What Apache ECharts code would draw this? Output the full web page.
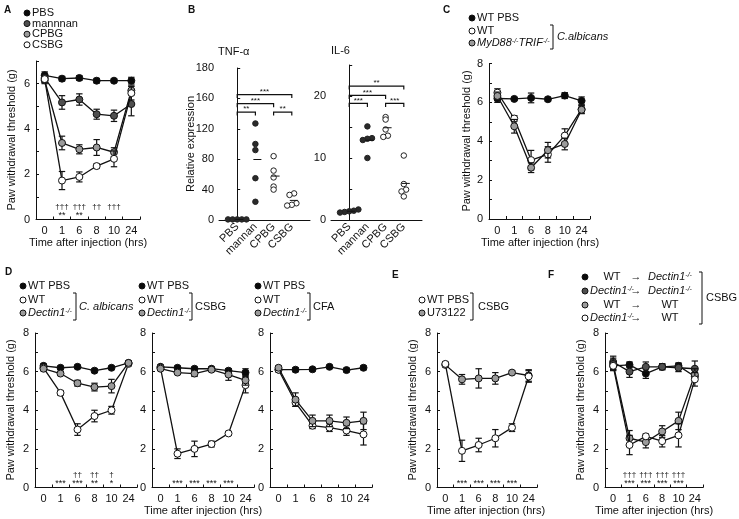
<!DOCTYPE html>
<html><head><meta charset="utf-8">
<script src="https://cdn.jsdelivr.net/npm/echarts@6/dist/echarts.min.js"></script>
<style>html,body{margin:0;padding:0;background:#fff}#c{width:739px;height:519px}</style>
</head><body><div id="c"></div>
<script>
// ---------------- data ----------------
const timeLabels = ['0','1','6','8','10','24'];

// Panel A
const aPBS = [6.37, 6.22, 6.25, 6.13, 6.13, 6.13];
const aPBSErr = [0.15, 0.1, 0.1, 0.1, 0.08, 0.15];
const aMannan = [6.25, 5.17, 5.3, 4.65, 4.58, 5.1];
const aMannanErr = [0.15, 0.3, 0.25, 0.22, 0.25, 0.52];
const aCPBG = [6.15, 3.38, 3.1, 3.18, 2.97, 5.7];
const aCPBGErr = [0.15, 0.3, 0.2, 0.35, 0.2, 0.2];
const aCSBG = [6.2, 1.72, 1.88, 2.36, 2.68, 5.58];
const aCSBGErr = [0.15, 0.4, 0.22, 0.1, 0.35, 0.3];
const aDaggers = ['', '†††', '†††', '††', '†††', ''];
const aStars = ['', '**', '**', '', '', ''];

// Panel B
const bCats = ['PBS', 'mannan', 'CPBG', 'CSBG'];
const tnfTickLabels = ['0', '40', '80', '120', '160', '180'];
const tnfPBS = [0.8, 0.8, 0.8, 0.8, 0.8];
const tnfMannan = [127, 100, 92, 55, 24];
const tnfCPBG = [84, 65, 56, 44, 40];
const tnfCSBG = [35, 33, 22, 20, 19];
const il6PBS = [1.7, 1.5, 1.4, 1.3, 1.2];
const il6Mannan = [15.1, 13.2, 13.1, 12.9, 10.0];
const il6CPBG = [16.6, 16.2, 14.6, 13.6, 13.4];
const il6CSBG = [10.4, 5.8, 4.9, 4.6, 3.8];
const tnfBrackets = [[0, 1, 142], [0, 2, 153], [0, 3, 165], [2, 3, 142]];
const tnfBracketLabels = ['**', '***', '***', '**'];
const il6Brackets = [[0, 1, 18.8], [0, 2, 20.1], [0, 3, 21.6], [2, 3, 18.8]];
const il6BracketLabels = ['***', '***', '**', '***'];

// Panel C
const cPBS = [6.2, 6.18, 6.23, 6.16, 6.35, 6.08];
const cPBSErr = [0.2, 0.08, 0.25, 0.1, 0.15, 0.2];
const cWT = [6.5, 5.17, 3.03, 3.32, 4.29, 5.65];
const cWTErr = [0.2, 0.15, 0.5, 0.4, 0.35, 0.2];
const cMyD = [6.33, 4.77, 2.64, 3.54, 3.86, 5.62];
const cMyDErr = [0.2, 0.35, 0.25, 0.4, 0.3, 0.2];

// Panel D (C. albicans, CSBG, CFA)
const d1PBS = [6.3, 6.2, 6.25, 6.05, 6.2, 6.45];
const d1PBSErr = [0.1, 0.08, 0.08, 0.08, 0.08, 0.1];
const d1WT = [6.2, 4.9, 3.0, 3.7, 4.0, 6.4];
const d1WTErr = [0.1, 0.12, 0.3, 0.3, 0.2, 0.1];
const d1Dectin = [6.15, 5.9, 5.4, 5.2, 5.25, 6.45];
const d1DectinErr = [0.1, 0.1, 0.15, 0.2, 0.35, 0.1];
const d1Daggers = ['', '', '††', '††', '†', ''];
const d1Stars = ['', '***', '***', '**', '*', ''];

const d2PBS = [6.25, 6.2, 6.15, 6.15, 6.05, 5.95];
const d2PBSErr = [0.08, 0.08, 0.08, 0.08, 0.1, 0.2];
const d2WT = [6.2, 1.75, 2.0, 2.25, 2.8, 5.3];
const d2WTErr = [0.08, 0.25, 0.4, 0.15, 0.1, 0.4];
const d2Dectin = [6.15, 5.95, 5.9, 6.1, 5.85, 5.55];
const d2DectinErr = [0.08, 0.08, 0.15, 0.08, 0.3, 0.25];
const d2Stars = ['', '***', '***', '***', '***', ''];

const d3PBS = [6.1, 6.1, 6.12, 6.25, 6.08, 6.2];
const d3PBSErr = [0.08, 0.1, 0.08, 0.08, 0.1, 0.1];
const d3WT = [6.1, 4.4, 3.2, 3.1, 2.95, 2.75];
const d3WTErr = [0.1, 0.2, 0.15, 0.2, 0.25, 0.55];
const d3Dectin = [6.2, 4.55, 3.45, 3.45, 3.35, 3.45];
const d3DectinErr = [0.1, 0.35, 0.3, 0.3, 0.3, 0.45];

// Panel E
const eWT = [6.4, 1.9, 2.2, 2.55, 3.1, 5.75];
const eWTErr = [0.1, 0.55, 0.35, 0.45, 0.2, 0.3];
const eU = [6.35, 5.6, 5.65, 5.65, 5.95, 5.8];
const eUErr = [0.1, 0.25, 0.5, 0.3, 0.1, 0.3];
const eStars = ['', '***', '***', '***', '***', ''];

// Panel F
const fWTtoKO = [6.3, 6.35, 5.9, 6.25, 6.3, 5.75];
const fWTtoKOErr = [0.25, 0.15, 0.25, 0.15, 0.15, 0.2];
const fKOtoKO = [6.5, 6.0, 6.25, 6.25, 6.2, 6.15];
const fKOtoKOErr = [0.3, 0.3, 0.25, 0.15, 0.2, 0.4];
const fWTtoWT = [6.4, 2.55, 2.35, 2.9, 3.45, 5.85];
const fWTtoWTErr = [0.3, 0.4, 0.3, 0.3, 0.45, 0.3];
const fKOtoWT = [6.3, 2.2, 2.65, 2.4, 2.7, 5.6];
const fKOtoWTErr = [0.2, 0.5, 0.12, 0.3, 0.6, 0.35];
const fDaggers = ['', '†††', '†††', '†††', '†††', ''];
const fStars = ['', '***', '***', '***', '***', ''];

// ---------------- styling ----------------
const FONT = '"Liberation Sans", Arial, Helvetica, sans-serif';
const INK = '#111';
const COL = { black: '#0a0a0a', dark: '#4f4f4f', gray: '#9b9b9b', white: '#ffffff' };

const grids = [], xAxes = [], yAxes = [], series = [], graphics = [];

function errorBarRender(params, api) {
  const x = api.value(0), y = api.value(1), e = api.value(2);
  const a = api.coord([x, y + e]), b = api.coord([x, y - e]);
  const w = 3.2, st = { stroke: INK, lineWidth: 1.2 };
  return { type: 'group', children: [
    { type: 'line', shape: { x1: a[0], y1: a[1], x2: b[0], y2: b[1] }, style: st },
    { type: 'line', shape: { x1: a[0] - w, y1: a[1], x2: a[0] + w, y2: a[1] }, style: st },
    { type: 'line', shape: { x1: b[0] - w, y1: b[1], x2: b[0] + w, y2: b[1] }, style: st }
  ]};
}

function sigSeries(gi, labels, offset, size) {
  return {
    type: 'custom', xAxisIndex: gi, yAxisIndex: gi, z: 20, silent: true,
    data: labels.map((_, i) => [i, 0]),
    renderItem: (params, api) => {
      const t = labels[params.dataIndex];
      if (!t) return null;
      const p = api.coord([api.value(0), 0]);
      return { type: 'text', x: p[0], y: p[1] - offset, style: {
        text: t, font: size + 'px ' + FONT, fill: INK,
        textAlign: 'center', align: 'center', textVerticalAlign: 'middle', verticalAlign: 'middle' } };
    }
  };
}

function addTimePanel(cfg) {
  const gi = grids.length;
  grids.push({ left: cfg.left, top: cfg.top, width: cfg.width, height: cfg.height });
  xAxes.push({ gridIndex: gi, type: 'category', data: timeLabels, boundaryGap: true,
    axisLine: { lineStyle: { color: INK, width: 1 } },
    axisTick: { show: true, inside: true, length: 3, lineStyle: { color: INK } },
    axisLabel: { color: INK, fontSize: 11, fontFamily: FONT, margin: 6, interval: 0 } });
  yAxes.push({ gridIndex: gi, type: 'value', min: 0, max: cfg.yMax, interval: 1,
    axisLine: { show: true, lineStyle: { color: INK, width: 1 } },
    axisTick: { show: true, inside: true, length: 3, lineStyle: { color: INK } },
    splitLine: { show: false },
    axisLabel: { color: INK, fontSize: 11, fontFamily: FONT, margin: 6,
      formatter: v => (v % 2 === 0 ? String(v) : '') } });
  cfg.series.forEach((s, k) => {
    series.push({ type: 'custom', xAxisIndex: gi, yAxisIndex: gi, z: 2 + k * 2, silent: true,
      data: s.values.map((v, i) => [i, v, s.errors[i]]), renderItem: errorBarRender });
    series.push({ type: 'line', name: s.name, xAxisIndex: gi, yAxisIndex: gi, z: 3 + k * 2, silent: true,
      data: s.values, symbol: 'circle', symbolSize: 7, showSymbol: true,
      lineStyle: { color: INK, width: 1.3 },
      itemStyle: { color: s.fill, borderColor: INK, borderWidth: 1 } });
  });
  if (cfg.daggers) series.push(sigSeries(gi, cfg.daggers, 13, 8));
  if (cfg.stars) series.push(sigSeries(gi, cfg.stars, 4, 9));
}

// swarm offsets (in x data units) derived from values
function swarm(vals, pxPerY, pxPerX) {
  const idx = vals.map((v, i) => i).sort((a, b) => vals[a] - vals[b]);
  const clusters = [];
  idx.forEach(i => {
    const last = clusters[clusters.length - 1];
    if (last && (vals[i] - vals[last[last.length - 1]]) * pxPerY < 2.4) last.push(i);
    else clusters.push([i]);
  });
  const offs = new Array(vals.length).fill(0);
  const step = 4.6;
  clusters.forEach(c => c.forEach((i, j) => { offs[i] = (j - (c.length - 1) / 2) * step / pxPerX; }));
  return offs;
}

function addDotPanel(cfg) {
  const gi = grids.length;
  grids.push({ left: cfg.left, top: cfg.top, width: cfg.width, height: cfg.height });
  xAxes.push({ gridIndex: gi, type: 'value', min: -1, max: 4, interval: 1,
    axisLine: { lineStyle: { color: INK, width: 1 } }, axisTick: { show: false }, splitLine: { show: false },
    axisLabel: { color: INK, fontSize: 11, fontFamily: FONT, rotate: 45, margin: 5,
      formatter: v => (bCats[v] !== undefined ? bCats[v] : '') } });
  yAxes.push({ gridIndex: gi, type: 'value', min: 0, max: cfg.yMax, interval: cfg.interval,
    axisLine: { show: true, lineStyle: { color: INK, width: 1 } },
    axisTick: { show: true, inside: true, length: 3, lineStyle: { color: INK } },
    splitLine: { show: false },
    axisLabel: { color: INK, fontSize: 11, fontFamily: FONT, margin: 5, formatter: cfg.tickFormatter } });
  const pxPerY = cfg.height / cfg.yMax, pxPerX = cfg.width / 5;
  cfg.groups.forEach((vals, ci) => {
    const offs = swarm(vals, pxPerY, pxPerX);
    series.push({ type: 'scatter', xAxisIndex: gi, yAxisIndex: gi, silent: true, z: 5,
      data: vals.map((v, i) => [ci + offs[i], v]), symbol: 'circle', symbolSize: 5.5,
      itemStyle: { color: cfg.fills[ci], borderColor: '#222', borderWidth: 1, opacity: 1 } });
  });
  // mean markers
  const means = cfg.groups.map(g => g.reduce((s, v) => s + v, 0) / g.length);
  series.push({ type: 'custom', xAxisIndex: gi, yAxisIndex: gi, silent: true, z: 6,
    data: means.map((m, i) => [i, m]),
    renderItem: (params, api) => {
      const p = api.coord([api.value(0), api.value(1)]);
      return { type: 'line', shape: { x1: p[0] - 2, y1: p[1], x2: p[0] + 6, y2: p[1] },
        style: { stroke: INK, lineWidth: 1 } };
    } });
  // significance brackets
  series.push({ type: 'custom', xAxisIndex: gi, yAxisIndex: gi, silent: true, z: 6,
    data: cfg.brackets,
    renderItem: (params, api) => {
      const a = api.coord([api.value(0), api.value(2)]);
      const b = api.coord([api.value(1), api.value(2)]);
      const t = cfg.bracketLabels[params.dataIndex];
      return { type: 'group', children: [
        { type: 'polyline', shape: { points: [[a[0], a[1] + 3.5], [a[0], a[1]], [b[0], b[1]], [b[0], b[1] + 3.5]] },
          style: { stroke: INK, lineWidth: 1.2, fill: null } },
        { type: 'text', x: (a[0] + b[0]) / 2, y: a[1] + 1, style: { text: t, font: '8px ' + FONT, fill: INK,
          textAlign: 'center', align: 'center', textVerticalAlign: 'bottom', verticalAlign: 'bottom' } }
      ]};
    } });
}

// ---------------- panels ----------------
addTimePanel({ left: 36, top: 61, width: 104, height: 158.5, yMax: 7,
  series: [
    { name: 'PBS', values: aPBS, errors: aPBSErr, fill: COL.black },
    { name: 'mannnan', values: aMannan, errors: aMannanErr, fill: COL.dark },
    { name: 'CPBG', values: aCPBG, errors: aCPBGErr, fill: COL.gray },
    { name: 'CSBG', values: aCSBG, errors: aCSBGErr, fill: COL.white }
  ], daggers: aDaggers, stars: aStars });

addDotPanel({ left: 219, top: 68, width: 91, height: 152, yMax: 200, interval: 40,
  tickFormatter: v => tnfTickLabels[Math.round(v / 40)],
  groups: [tnfPBS, tnfMannan, tnfCPBG, tnfCSBG],
  fills: ['#2a2a2a', '#2a2a2a', '#fff', '#fff'],
  brackets: tnfBrackets, bracketLabels: tnfBracketLabels });

addDotPanel({ left: 331, top: 65, width: 91, height: 155, yMax: 25, interval: 5,
  tickFormatter: v => (v % 10 === 0 ? String(v) : ''),
  groups: [il6PBS, il6Mannan, il6CPBG, il6CSBG],
  fills: ['#2a2a2a', '#2a2a2a', '#fff', '#fff'],
  brackets: il6Brackets, bracketLabels: il6BracketLabels });

addTimePanel({ left: 489, top: 63.5, width: 101, height: 155.5, yMax: 8,
  series: [
    { name: 'WT PBS', values: cPBS, errors: cPBSErr, fill: COL.black },
    { name: 'WT', values: cWT, errors: cWTErr, fill: COL.white },
    { name: 'MyD88-/-TRIF-/-', values: cMyD, errors: cMyDErr, fill: COL.gray }
  ] });

const dTop = 333, dH = 154.5;
addTimePanel({ left: 35, top: dTop, width: 102, height: dH, yMax: 8,
  series: [
    { name: 'WT PBS', values: d1PBS, errors: d1PBSErr, fill: COL.black },
    { name: 'WT', values: d1WT, errors: d1WTErr, fill: COL.white },
    { name: 'Dectin1-/-', values: d1Dectin, errors: d1DectinErr, fill: COL.gray }
  ], daggers: d1Daggers, stars: d1Stars });
addTimePanel({ left: 152, top: dTop, width: 102, height: dH, yMax: 8,
  series: [
    { name: 'WT PBS', values: d2PBS, errors: d2PBSErr, fill: COL.black },
    { name: 'WT', values: d2WT, errors: d2WTErr, fill: COL.white },
    { name: 'Dectin1-/-', values: d2Dectin, errors: d2DectinErr, fill: COL.gray }
  ], stars: d2Stars });
addTimePanel({ left: 270, top: dTop, width: 102, height: dH, yMax: 8,
  series: [
    { name: 'WT PBS', values: d3PBS, errors: d3PBSErr, fill: COL.black },
    { name: 'WT', values: d3WT, errors: d3WTErr, fill: COL.white },
    { name: 'Dectin1-/-', values: d3Dectin, errors: d3DectinErr, fill: COL.gray }
  ] });
addTimePanel({ left: 437, top: dTop, width: 100, height: dH, yMax: 8,
  series: [
    { name: 'U73122', values: eU, errors: eUErr, fill: COL.gray },
    { name: 'WT PBS', values: eWT, errors: eWTErr, fill: COL.white }
  ], stars: eStars });
addTimePanel({ left: 605, top: dTop, width: 98, height: dH, yMax: 8,
  series: [
    { name: 'WT → Dectin1-/-', values: fWTtoKO, errors: fWTtoKOErr, fill: COL.black },
    { name: 'Dectin1-/- → Dectin1-/-', values: fKOtoKO, errors: fKOtoKOErr, fill: COL.dark },
    { name: 'WT → WT', values: fWTtoWT, errors: fWTtoWTErr, fill: COL.gray },
    { name: 'Dectin1-/- → WT', values: fKOtoWT, errors: fKOtoWTErr, fill: COL.white }
  ], daggers: fDaggers, stars: fStars });

// ---------------- text / legends ----------------
const RICH = {
  n: { font: '11px ' + FONT, fill: INK },
  i: { font: 'italic 11px ' + FONT, fill: INK },
  s: { font: 'italic 7px ' + FONT, fill: INK, verticalAlign: 'top' }
};
function txt(x, y, text, o = {}) {
  graphics.push({ type: 'text', x, y, rotation: o.rotation || 0, silent: true, z: 50, style: {
    text, rich: RICH, font: (o.weight ? o.weight + ' ' : '') + (o.italic ? 'italic ' : '') + (o.size || 11) + 'px ' + FONT,
    fill: INK, textAlign: o.align || 'left', align: o.align || 'left',
    textVerticalAlign: o.va || 'middle', verticalAlign: o.va || 'middle' } });
}
function dot(cx, cy, fill) {
  graphics.push({ type: 'circle', silent: true, z: 50, shape: { cx, cy, r: 3 },
    style: { fill, stroke: INK, lineWidth: 1 } });
}
function bracket(x, y1, y2) {
  graphics.push({ type: 'polyline', silent: true, z: 50,
    shape: { points: [[x - 3, y1], [x, y1], [x, y2], [x - 3, y2]] },
    style: { stroke: INK, lineWidth: 1, fill: null } });
}
const KO = '{i|Dectin1}{s|-/-}';

// panel letters
[['A', 4, 10], ['B', 188, 10], ['C', 443, 10], ['D', 5, 272], ['E', 392, 275], ['F', 548, 275]]
  .forEach(([t, x, y]) => txt(x, y, t, { weight: 'bold', size: 10 }));

// axis titles
const YT = 'Paw withdrawal threshold (g)', XT = 'Time after injection (hrs)';
txt(12, 140, YT, { rotation: Math.PI / 2, align: 'center' });
txt(88, 243, XT, { align: 'center' });
txt(191, 144, 'Relative expression', { rotation: Math.PI / 2, align: 'center' });
txt(467, 141, YT, { rotation: Math.PI / 2, align: 'center' });
txt(540, 243, XT, { align: 'center' });
txt(11, 410, YT, { rotation: Math.PI / 2, align: 'center' });
txt(203, 511, XT, { align: 'center' });
txt(413, 410, YT, { rotation: Math.PI / 2, align: 'center' });
txt(486, 511, XT, { align: 'center' });
txt(581, 410, YT, { rotation: Math.PI / 2, align: 'center' });
txt(654, 511, XT, { align: 'center' });

// B subtitles
txt(218, 52, 'TNF-α');
txt(331, 51, 'IL-6');

// A legend
[['PBS', COL.black], ['mannnan', COL.dark], ['CPBG', COL.gray], ['CSBG', COL.white]].forEach(([t, c], k) => {
  const y = 13 + k * 10.6; dot(27, y, c); txt(32, y, t);
});

// C legend
dot(472, 18, COL.black); txt(477, 18, 'WT PBS');
dot(472, 31, COL.white); txt(477, 31, 'WT');
dot(472, 43, COL.gray); txt(477, 43, '{i|MyD88}{s|-/-}{i|TRIF}{s|-/-}');
bracket(553, 25, 49); txt(557, 37, 'C.albicans', { italic: true });

// D legends
[[23, 76, '{i|C. albicans}'], [142, 192, 'CSBG'], [258, 310, 'CFA']].forEach(([mx, bx, lab]) => {
  dot(mx, 286, COL.black); txt(mx + 5, 286, 'WT PBS');
  dot(mx, 300, COL.white); txt(mx + 5, 300, 'WT');
  dot(mx, 313, COL.gray); txt(mx + 5, 313, KO);
  bracket(bx, 293, 320); txt(bx + 3, 307, lab);
});

// E legend
dot(422, 300, COL.white); txt(427, 300, 'WT PBS');
dot(422, 313, COL.gray); txt(427, 313, 'U73122');
bracket(473, 293, 320); txt(478, 307, 'CSBG');

// F legend
[[277, COL.black, 'WT', KO], [291, COL.dark, KO, KO], [305, COL.gray, 'WT', 'WT'], [318, COL.white, KO, 'WT']]
  .forEach(([y, c, donor, rec]) => {
    dot(585, y, c);
    txt(612, y, donor, { align: 'center' });
    txt(636, y, '→', { align: 'center' });
    txt(670, y, rec, { align: 'center' });
  });
bracket(702, 272, 324); txt(706, 298, 'CSBG');

// ---------------- render ----------------
const chart = echarts.init(document.getElementById('c'), null, { renderer: 'canvas', width: 739, height: 519 });
chart.setOption({
  animation: false,
  backgroundColor: '#fff',
  textStyle: { fontFamily: FONT },
  grid: grids, xAxis: xAxes, yAxis: yAxes, series, graphic: graphics
});
</script></body></html>
